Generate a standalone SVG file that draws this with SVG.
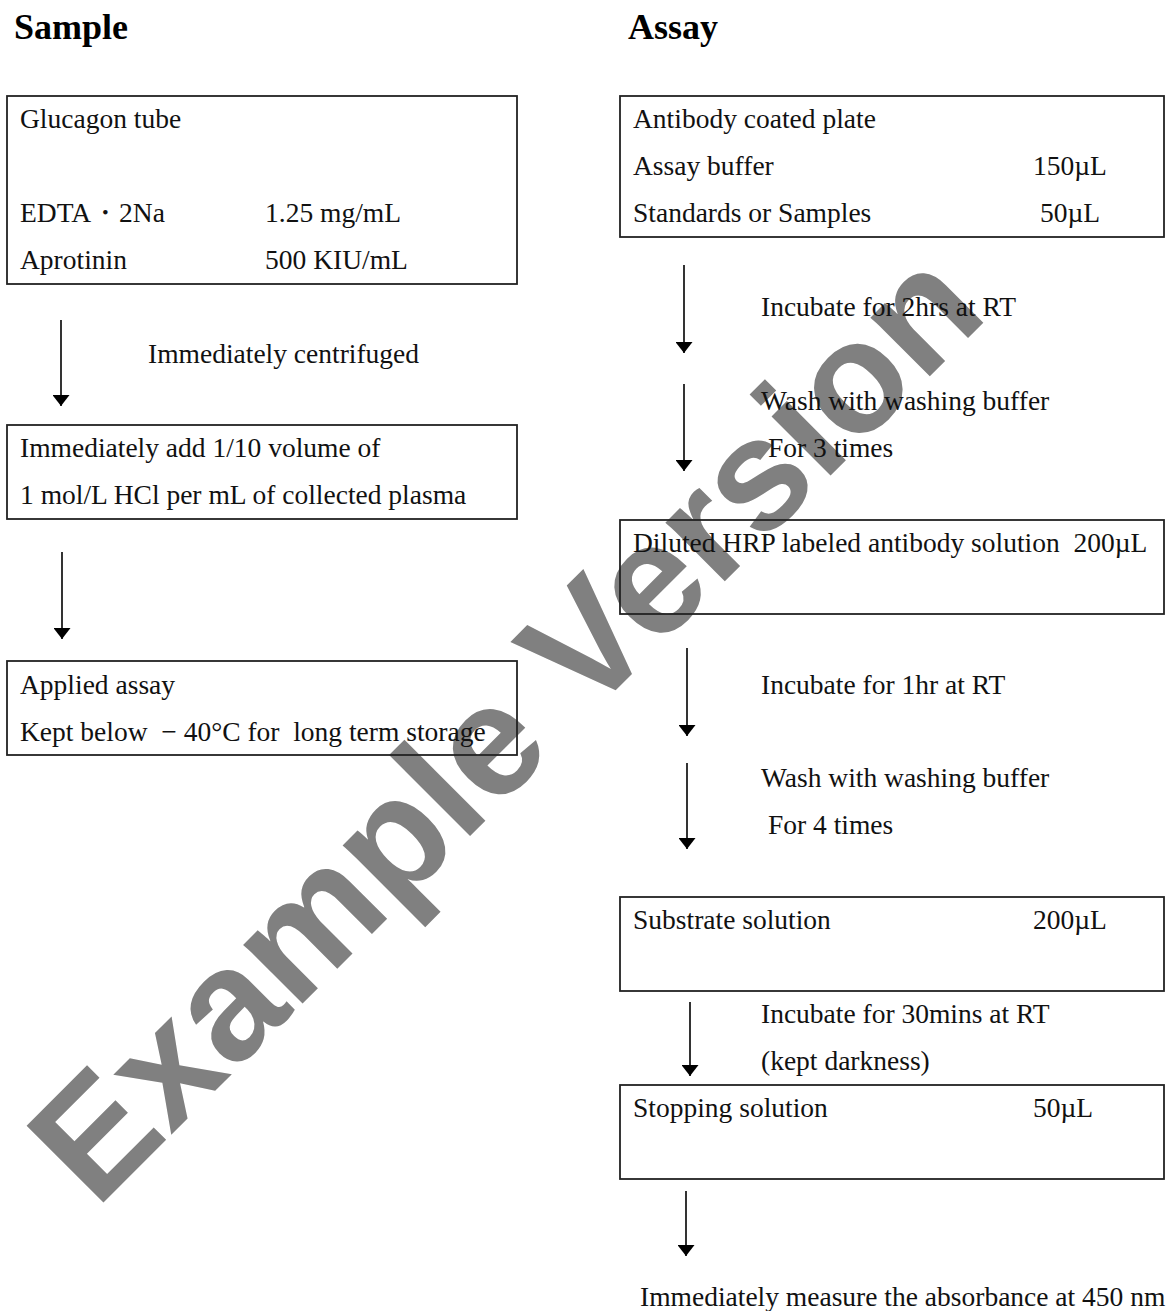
<svg xmlns="http://www.w3.org/2000/svg" width="1173" height="1311" viewBox="0 0 1173 1311">
<style>
.t{font-family:"Liberation Serif","Times New Roman",serif;font-size:27.5px;fill:#111;white-space:pre}
.h{font-family:"Liberation Serif","Times New Roman",serif;font-size:36px;font-weight:bold;fill:#000}
.box{fill:none;stroke:#222;stroke-width:1.8}
.conn line{stroke:#000;stroke-width:1.6}
.wm{font-family:"Liberation Sans",Arial,sans-serif;font-weight:bold;font-size:158px;fill:#808080}
</style>
<defs>
<marker id="ah" viewBox="0 0 11 17" refX="11" refY="8.5" markerWidth="11" markerHeight="17" markerUnits="userSpaceOnUse" orient="auto">
<path d="M0,0 L11,8.5 L0,17 Z" fill="#000"/>
</marker>
</defs>
<rect width="1173" height="1311" fill="#fff"/>
<g id="watermark"><text class="wm" transform="translate(96,1210) rotate(-45)">Example Version</text></g>

<g id="headers">
<text class="h" x="14" y="39">Sample</text>
<text class="h" x="628" y="39">Assay</text>
</g>

<g id="connectors" class="conn">
<line x1="61" y1="320" x2="61" y2="406" marker-end="url(#ah)"/>
<line x1="62" y1="552" x2="62" y2="639" marker-end="url(#ah)"/>
<line x1="684" y1="265" x2="684" y2="353" marker-end="url(#ah)"/>
<line x1="684" y1="384" x2="684" y2="471" marker-end="url(#ah)"/>
<line x1="687" y1="648" x2="687" y2="736" marker-end="url(#ah)"/>
<line x1="687" y1="763" x2="687" y2="849" marker-end="url(#ah)"/>
<line x1="690" y1="1002" x2="690" y2="1076" marker-end="url(#ah)"/>
<line x1="686" y1="1191" x2="686" y2="1256" marker-end="url(#ah)"/>
</g>

<g id="labels">
<text class="t" x="148" y="363">Immediately centrifuged</text>
<text class="t" x="761" y="316">Incubate for 2hrs at RT</text>
<text class="t" x="761" y="410">Wash with washing buffer</text>
<text class="t" x="768" y="457">For 3 times</text>
<text class="t" x="761" y="694">Incubate for 1hr at RT</text>
<text class="t" x="761" y="787">Wash with washing buffer</text>
<text class="t" x="768" y="834">For 4 times</text>
<text class="t" x="761" y="1023">Incubate for 30mins at RT</text>
<text class="t" x="761" y="1070">(kept darkness)</text>
<text class="t" x="640" y="1306">Immediately measure the absorbance at 450 nm</text>
</g>

<g id="glucagon-tube">
<rect class="box" x="7" y="96" width="510" height="188"/>
<text class="t" x="20" y="128">Glucagon tube</text>
<text class="t" x="20" y="222">EDTA・2Na</text>
<text class="t" x="265" y="222">1.25 mg/mL</text>
<text class="t" x="20" y="269">Aprotinin</text>
<text class="t" x="265" y="269">500 KIU/mL</text>
</g>

<g id="add-hcl">
<rect class="box" x="7" y="425" width="510" height="94"/>
<text class="t" x="20" y="457">Immediately add 1/10 volume of</text>
<text class="t" x="20" y="504">1 mol/L HCl per mL of collected plasma</text>
</g>

<g id="applied-assay">
<rect class="box" x="7" y="661" width="510" height="94"/>
<text class="t" x="20" y="694">Applied assay</text>
<text class="t" x="20" y="741">Kept below  − 40°C for  long term storage</text>
</g>

<g id="antibody-plate">
<rect class="box" x="620" y="96" width="544" height="141"/>
<text class="t" x="633" y="128">Antibody coated plate</text>
<text class="t" x="633" y="175">Assay buffer</text>
<text class="t" x="1033" y="175">150µL</text>
<text class="t" x="633" y="222">Standards or Samples</text>
<text class="t" x="1040" y="222">50µL</text>
</g>

<g id="hrp-antibody">
<rect class="box" x="620" y="520" width="544" height="94"/>
<text class="t" x="633" y="552">Diluted HRP labeled antibody solution  200µL</text>
</g>

<g id="substrate">
<rect class="box" x="620" y="897" width="544" height="94"/>
<text class="t" x="633" y="929">Substrate solution</text>
<text class="t" x="1033" y="929">200µL</text>
</g>

<g id="stopping">
<rect class="box" x="620" y="1085" width="544" height="94"/>
<text class="t" x="633" y="1117">Stopping solution</text>
<text class="t" x="1033" y="1117">50µL</text>
</g>
</svg>
